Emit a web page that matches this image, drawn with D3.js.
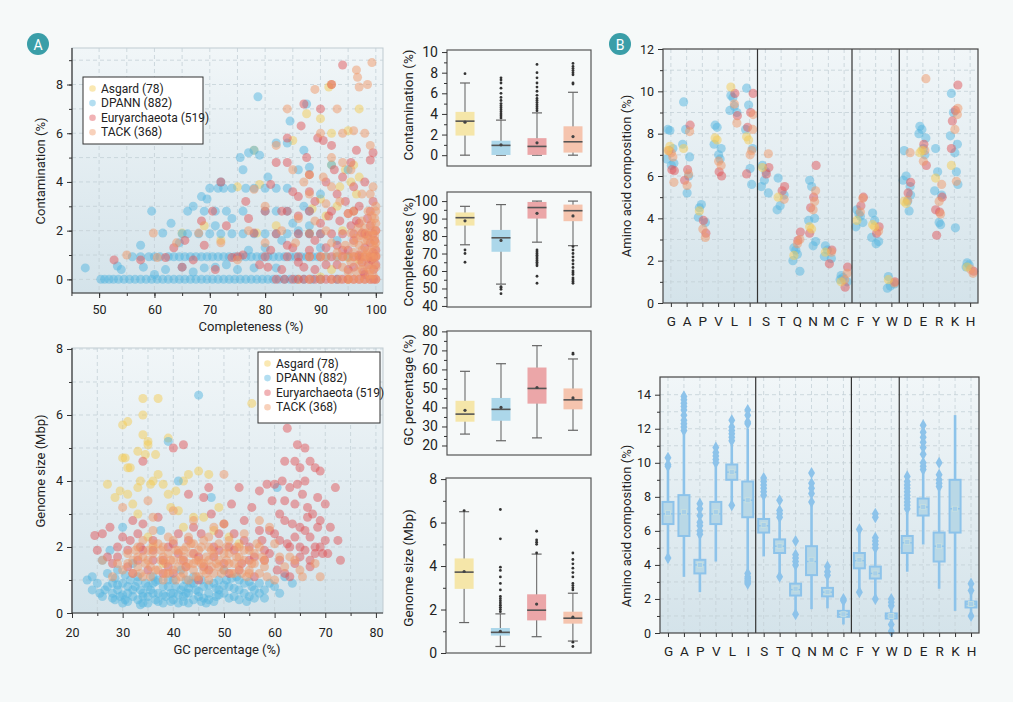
<!DOCTYPE html>
<html>
<head>
<meta charset="utf-8">
<script src="https://cdn.jsdelivr.net/npm/d3@7"></script>
<style>
  body { margin: 0; background: #f6f9f9; font-family: Roboto, "Noto Sans", sans-serif; }
  svg { display: block; }
</style>
</head>
<body>
<svg id="fig" width="1013" height="702"></svg>
<script>
// ---- data ----
const groups = ["Asgard (78)", "DPANN (882)", "Euryarchaeota (519)", "TACK (368)"];
const groupColors = ["#f4cb55", "#56b6df", "#df555a", "#f09868"];
const boxFills = ["#f5e6a9", "#acd7ea", "#eba6a8", "#f5c4ae"];

// completeness (%) vs contamination (%)
const ccAsgard = [[92,8.0],[91.5,7.9],[97,7.0],[87.5,6.8],[90,6.6],[92,6.0],[95,6.1],[85,5.7],[88,4.3],[92,4.7],[93.5,3.8],[94.5,4.5],[95.5,4.0],[96,4.7],[96.5,3.5],[97,4.2],[93,3.0],[90,3.3],[88,1.9],[75,3.8],[78,5.3],[79,3.9],[78.5,1.9],[72,1.6],[69,2.2],[91,2.6],[94,2.0],[96,2.8],[82,2.2],[97,0.8],[99,0.9],[95,0.9],[92,0.4],[90,0.1],[86,0],[95,0],[65,1.9],[88.5,2.9]];
const ccDpann = [[50.3,0],[51,0],[51.8,0],[52.6,0],[53.5,0],[54.5,0],[55.5,0],[56.5,0],[57.5,0],[58.5,0],[59.5,0],[60.5,0],[61.5,0],[62.5,0],[63.5,0],[64.5,0],[65.5,0],[66.5,0],[67.5,0],[68.5,0],[69.5,0],[70.5,0],[71.5,0],[72.5,0],[73.5,0],[74.5,0],[75.5,0],[76.5,0],[77.5,0],[78.5,0],[79.5,0],[80.5,0],[81.5,0],[82.5,0],[83.5,0],[84.5,0],[85.5,0],[87,0],[88.5,0],[90,0],[93,0],
  [56,0.93],[57.5,0.93],[59,0.93],[60,0.93],[61,0.93],[62.5,0.93],[63.5,0.93],[64.5,0.93],[65.5,0.93],[66.5,0.93],[67.5,0.93],[68.5,0.93],[69.5,0.93],[70.5,0.93],[71.5,0.93],[72.5,0.93],[73.5,0.93],[74.5,0.93],[75.5,0.93],[76.5,0.93],[77.5,0.93],[78.5,0.93],[79.5,0.93],[80.5,0.93],[81.5,0.93],[82.5,0.93],[83.5,0.93],[84.5,0.93],[85.5,0.93],[86.5,0.93],[87.5,0.93],[88.5,0.93],[89.5,0.93],[91,0.93],[93,0.93],[95,0.93],
  [47.5,0.47],[53.3,0.55],[54,0.4],[58,0.5],[62,0.4],[65,0.5],[67,0.3],[69,0.47],[71,0.5],[73,0.6],[75,0.4],[78,0.47],[82,0.47],
  [65,1.87],[66,1.87],[68,1.87],[70,1.87],[72,1.87],[74,1.87],[76,1.87],[78,1.87],[80,1.87],[82,1.87],[84,1.87],[86,1.87],[88,1.87],[90,1.87],
  [59.5,2.8],[66,2.8],[69,2.8],[71,2.8],[73,2.8],[76,2.8],[80,2.8],[82,2.8],[84,2.8],[88,2.8],
  [70,3.74],[71.5,3.74],[72.5,3.74],[74,3.74],[76.5,3.74],[78,3.74],[80,3.74],[82,3.74],[84,3.74],
  [57.5,1.4],[63,2.3],[64.5,1.5],[67,3.0],[68.5,3.4],[69.5,3.3],[72,4.0],[75.5,5.0],[76,4.5],[77,5.2],[78,5.3],[79,5.1],[78.7,7.5],[80.5,4.2],[82,5.6],[84,5.6],[84.5,6.5],[87.5,7.2],[87,5.3],[86,4.5],[88,4.6],[90,3.5],[92,4.7],[95,4.5],[77,1.2],[80,1.3],[83,1.6],[85,2.3],[86,2.0],[87,3.0],[88,2.2],[90,1.3],[93,1.6],[74,2.5],[71,2.2],[61.5,1.9],[60,0.2]];
const ccEury = [[82,0],[83.5,0],[85,0],[86,0],[87,0],[88,0],[89,0],[90,0],[91,0],[92,0],[93,0],[94,0],[95,0],[96,0],[97,0],[98,0],[99,0],[99.6,0],[100,0],
  [75,0.93],[80,0.93],[84,0.93],[86,0.93],[88,0.93],[90,0.93],[92,0.93],[94,0.93],[96,0.93],[97,0.93],[98,0.93],[99,0.93],[99.6,0.93],[100,0.93],
  [82,1.87],[86,1.87],[88,1.87],[90,1.87],[92,1.87],[94,1.87],[96,1.87],[98,1.87],[99.5,1.87],
  [84,2.8],[88,2.8],[92,2.8],[96,2.8],[99,2.8],
  [52.7,0.8],[57.5,0.8],[62,0.9],[63.5,1.3],[65,0.5],[65.5,1.6],[67,0.8],[68.5,2.4],[69,1.4],[70.5,2.8],[72,4.0],[73,2.2],[74,0.9],[76.5,3.2],[77,2.5],[78,1.9],[80,2.8],[80.5,0.5],[81,3.9],[82,4.8],[83,2.8],[84,4.8],[84,5.8],[85,3.6],[86,3.4],[86.5,6.3],[87,7.2],[87.5,5.0],[88,4.3],[89,3.2],[89.5,5.8],[90,7.0],[90.5,5.7],[91,4.0],[91.5,2.6],[92,8.0],[92,5.5],[93,3.5],[94,8.8],[94,4.2],[95,2.7],[95.5,4.8],[96,3.8],[96.5,5.3],[97,3.0],[97.5,1.9],[98,4.0],[98.5,2.5],[99,1.5],[99,4.9],[99.5,5.2],[99.5,3.2],[100,2.0],[100,1.2],[99.6,0.4],[98.7,0.6],[97.8,0.3],[99.2,0.8],[95,1.2],[93,1.4],[91,0.6],[89,1.6],[87,0.5],[85,1.3],[96,0.5],[98,1.3],[99.8,1.6],[97,2.3],[94.5,3.2],[92.5,4.5],[90,2.3],[88,3.6],[86,2.6],[83,0.4],[81,1.2],[79,0.6],[76,1.0],[71,0.4],
  [93,0.6],[94,1.2],[95,0.4],[96,1.6],[97,1.0],[98,0.2],[98.5,1.8],[99,2.2],[99.5,1.1],[100,0.6],[97.5,0.7],[96.5,2.4],[95.5,2.2],[93.5,2.4],[91,1.3],[89,0.4],[88,1.2],[86,0.7],[84,1.4]];
const ccTack = [[88,0],[90,0],[92,0],[93.5,0],[95,0],[96,0],[97,0],[98,0],[99,0],[100,0],
  [88,0.93],[90,0.93],[91,0.93],[93,0.93],[94,0.93],[95,0.93],[96,0.93],[97,0.93],[98,0.93],[99,0.93],[100,0.93],
  [99,0.4],[99.5,1.4],[98.5,1.6],[97.5,1.2],[99.8,1.8],[98,2.1],[97,0.6],[96,1.5],[99.3,2.6],[100,1.0],[98.8,0.2],[99.7,0.6],[99.9,1.3],[98.2,1.0],[97.2,1.8],[96.5,0.3],[99.4,2.0],[100,2.3],[98.6,2.8],[95.5,1.9],[94.5,1.4],[99,3.5],[100,3.0],
  [95,0.3],[95.5,0.7],[96,1.1],[96.5,1.7],[97,1.4],[97.5,0.4],[97.5,2.4],[98,0.8],[98,1.6],[98.5,0.5],[98.5,1.2],[99,1.1],[99,1.8],[99.2,2.3],[99.5,0.2],[99.5,0.9],[99.7,1.6],[100,0.5],[100,1.5],[100,2.0],[99.8,2.5],[98.3,1.9],[96.8,2.1],[94,0.5],[93,1.1],[92,1.5],
  [55,1.0],[59.8,1.9],[60.5,0.9],[64,1.5],[68,1.9],[72,1.5],[75,0.8],[77,2.0],[78,3.7],[80,3.0],[82,5.5],[84,7.0],[85,4.5],[86,2.5],[88,3.5],[89,7.8],[90,6.0],[90.5,4.2],[91,2.0],[92,5.0],[93,7.0],[93.5,3.2],[94,6.0],[95,2.7],[95.5,4.5],[96,6.1],[96.5,8.6],[97,7.9],[97.5,3.5],[98,6.0],[98.5,8.0],[99,5.5],[99.3,8.9],[99.5,3.8],[100,2.8],[96.7,8.3],[92,3.8],[94,4.8],[89,2.4],[87,4.0],[91,3.1],[85.5,1.5],[83,2.0],[80,1.5]];

// GC percentage (%) vs genome size (Mbp)
const gsAsgard = [[27,3.9],[28.5,3.5],[29.5,3.7],[30,4.7],[30,5.7],[30.5,4.7],[31,5.8],[31,4.4],[31,3.6],[31.5,4.4],[32,3.3],[33,4.9],[33,3.8],[33.5,4.0],[34,6.5],[34,6.0],[34,5.4],[34.5,4.8],[35,5.2],[35,5.1],[35.5,3.9],[36,4.0],[36.5,4.8],[37,6.5],[37,4.2],[38,3.9],[39,5.3],[39,3.6],[39.5,3.2],[40.5,3.7],[41,3.1],[42,4.0],[43,4.2],[44,2.9],[45,4.3],[46,2.9],[47,4.2],[48,2.5],[49,3.2],[50,2.7],[51,2.3],[55.5,6.35],[53,2.1],[36,2.0],[38,1.5],[35,2.3],[33,3.0],[42,2.6]];
const gsDpann = [[23,1.0],[24,1.1],[25,0.9],[25.5,0.6],[26,0.5],[27,0.8],[27.5,1.9],[28,0.6],[28.5,0.4],[29,0.7],[29.5,0.5],[30,0.9],[30,2.6],[30.5,0.4],[31,0.6],[31.5,1.0],[32,0.5],[32.5,0.8],[33,0.4],[33.5,0.7],[34,0.3],[34.5,0.9],[35,0.5],[35.5,0.7],[36,1.1],[36.5,0.4],[37,0.6],[37.5,2.5],[38,0.8],[38.5,0.5],[39,5.2],[39,1.0],[39.5,0.6],[40,0.4],[40.5,0.8],[41,4.0],[41,0.3],[41.5,0.7],[42,0.5],[42.5,1.0],[43,0.6],[43.5,0.9],[44,0.4],[44.5,0.7],[45,6.6],[45,0.5],[45.5,1.0],[46,0.8],[46.5,0.3],[47,0.6],[47.5,3.5],[48,0.9],[48.5,0.5],[49,0.7],[50,0.6],[50.5,1.0],[51,0.8],[52,0.5],[52.5,1.1],[53,0.7],[54,0.9],[55,0.5],[55.5,0.8],[56,0.7],[57,0.6],[58,0.7],[60,0.8],[60.5,3.8],[63.5,0.9],[36,0.9],[33,1.1],[30,0.3],[35,0.3],[40,0.6],[44,1.1],[38,0.3],[31,0.8],[28,0.9],[42,0.8],[47,0.4],[49,1.0],[34,0.6],[43,0.3],[37,1.0],[26,1.6],[29,1.3],[32,1.5],[27,1.2],[50,1.3],[53,0.4],[41.5,1.3],
  [28,0.45],[29,0.85],[30,0.55],[31,0.35],[32,0.7],[33,0.95],[34,0.5],[35,0.8],[36,0.6],[37,0.35],[38,0.55],[39,0.8],[40,1.0],[41,0.55],[42,0.35],[43,0.75],[44,0.9],[45,0.65],[46,0.45],[47,0.85],[48,0.35],[49,0.55],[50,0.85],[51,0.45],[52,0.75],[53,1.0],[54,0.6],[55,0.95],[56,0.45],[57,0.9],[58,0.45],[59,0.9],[61,0.6],[62,1.1],[28.5,1.05],[30.5,1.15],[33.5,0.25],[36.5,0.95],[39.5,0.35],[42.5,0.6],[45.5,0.35],[48.5,0.75],[51.5,1.05],[54.5,0.35],[26.5,0.7],[24,0.7]];
const gsEury = [[24.5,2.35],[25,1.9],[26,2.4],[27,1.7],[27.5,2.6],[28,1.5],[29,1.7],[30,2.3],[31,1.4],[31.5,2.2],[32,2.8],[33,2.4],[33.5,2.0],[34,4.6],[34,2.7],[35,1.3],[36,2.2],[37,2.9],[38,1.6],[39,2.0],[40,5.0],[40,1.2],[41,2.4],[42,5.1],[42.5,1.4],[43,3.6],[44,2.6],[45,1.0],[45.5,2.4],[46,3.5],[47,3.8],[47.5,3.0],[48,1.7],[49,2.4],[50,2.7],[51,1.2],[51.5,3.3],[52,2.4],[53,3.8],[53.5,1.5],[54,2.8],[55,2.0],[55.5,3.2],[56,1.1],[57,3.7],[57.5,2.2],[58,1.6],[58.5,3.9],[59,2.5],[59.5,3.4],[60,3.9],[60.5,1.3],[61,3.0],[61.5,4.0],[62,4.6],[62.5,5.6],[62.5,2.1],[63,3.8],[63.5,2.7],[64,4.6],[64,3.3],[64.5,5.1],[65,4.4],[65,2.6],[65.5,3.6],[66,4.0],[66,5.0],[66.5,3.2],[67,2.3],[67,4.6],[67.5,3.0],[68,4.4],[68,2.0],[68.5,3.5],[69,2.8],[69,4.3],[69.5,1.8],[70,3.3],[70.5,1.8],[71,2.6],[72,3.8],[72.5,2.2],[73,1.6],[64,1.5],[66,1.9],[62,2.8],[60,2.4],[58,1.9],[55,1.6],[52,1.9],[50,1.5],[48,2.0],[46,1.4],[44,1.8],[42,1.6],[40,2.1],[38,1.2],[36,1.6],[34,1.9],[32,1.2],[63,1.1],[67,1.6],[69,2.0],[65,2.0],[61,2.2],[68.5,2.6],[66.5,2.9],[64.5,3.9],[62,3.4],
  [33,1.6],[36,1.9],[39,1.4],[41,1.8],[43,2.2],[45,1.7],[47,1.3],[49,1.9],[51,2.0],[53,1.3],[54,2.2],[56,1.7],[57,2.5],[59,1.8],[61,1.6],[62,1.2],[63,2.0],[64,2.3],[65,1.7],[66,2.5],[67,1.4],[68,1.8],[70,2.2],[31,1.9],[29,2.0]];
const gsTack = [[26,1.6],[28,1.1],[29,1.5],[30,3.2],[30,1.3],[31,1.8],[32,1.2],[32,1.6],[33,2.0],[33,1.4],[34,1.7],[34,1.1],[35,1.9],[35,3.4],[35.5,1.4],[36,2.9],[36,1.8],[37,1.3],[37,2.1],[37.5,1.6],[38,1.0],[38,2.0],[38.5,1.5],[39,1.8],[39,1.2],[40,2.2],[40,1.6],[40.5,1.0],[41,1.9],[41,1.4],[42,1.7],[42,1.2],[42.5,2.0],[43,1.5],[43,1.0],[43.5,1.8],[44,1.3],[44,2.1],[44.5,1.6],[45,1.9],[45,1.1],[45.5,1.5],[46,2.2],[46,1.3],[46.5,1.7],[47,1.0],[47,2.0],[47.5,1.4],[48,1.8],[48,1.2],[49,1.6],[49,2.1],[50,1.3],[50,1.8],[51,1.5],[51,2.2],[52,1.2],[52.5,1.7],[53,2.0],[53,1.4],[54,1.6],[54.5,1.1],[55,1.9],[55,1.3],[56,1.5],[56.5,2.1],[57,1.2],[57.5,1.7],[58,1.4],[59,2.6],[60,1.0],[61,1.7],[62,1.4],[63,1.7],[64,1.6],[65,1.3],[65.5,1.1],[68,1.5],[69,1.1],[50,4.2],[48,2.6],[44,2.8],[40,3.1],[36,2.5],[34,2.2],[54,2.4],[57,2.8],[60,2.1],
  [31,1.5],[32.5,1.9],[33.5,1.2],[34.5,1.5],[35.5,1.1],[36,2.1],[36.5,1.3],[37.5,1.9],[38.5,1.2],[39.5,1.6],[40.5,1.9],[41.5,1.1],[41.5,1.6],[42.5,1.4],[43.5,2.1],[44.5,1.1],[45,1.6],[45.5,2.0],[46.5,1.2],[47,1.6],[47.5,1.9],[48.5,1.5],[49.5,1.2],[50.5,1.6],[50.5,2.0],[51.5,1.2],[52,1.5],[52.5,2.0],[53.5,1.2],[54,1.9],[55.5,1.5],[56,1.8],[57,2.0],[58,1.6],[58.5,1.1],[39,2.3],[43,2.3],[47,2.3],[35,1.6],[33,1.7],[42,1.9],[46,1.5],[49,1.4],[53,1.7],[44,1.5],[38,1.7],[40,1.3],[51,1.8],[55,1.2]];

// box statistics per group: [whiskerLow, q1, median, q3, whiskerHigh, mean, outliers]
const contamBoxes = [
  [0, 1.9, 3.3, 4.2, 7.0, 3.2, [7.9]],
  [0, 0.02, 0.95, 1.4, 3.4, 1.0, [3.6,3.8,4.0,4.2,4.4,4.6,4.8,5.0,5.3,5.6,6.0,6.5,7.0,7.3,7.5]],
  [0, 0.03, 0.85, 1.65, 4.1, 1.2, [4.3,4.5,4.7,4.9,5.1,5.3,5.5,5.8,6.2,6.6,7.0,7.5,8.0,8.8]],
  [0, 0.25, 1.3, 2.8, 6.1, 1.8, [6.9,7.0,7.8,8.0,8.2,8.4,8.6,8.9]]
];
const complBoxes = [
  [75, 86, 90.5, 93.5, 97, 88.7, [72, 70, 65]],
  [52.5, 71, 79, 83.5, 98, 77.5, [51, 50.5, 49.5, 47]],
  [76.5, 90, 96.3, 99.5, 100, 93, [72,71,70,69,68,67,66,65,64,63,57,53]],
  [74.5, 88.5, 94.5, 98, 100, 91.5, [74,72,70,68,66,64,62,60,59,58,56,55,54,53]]
];
const gcBoxes = [
  [26, 32.5, 36.5, 43.5, 59, 38.5, []],
  [22.5, 33, 39, 45, 63, 40, []],
  [24, 42, 50, 61, 72.5, 50.5, []],
  [28, 39, 44, 50, 65.5, 45, [68, 68.6]]
];
const sizeBoxes = [
  [1.4, 2.95, 3.72, 4.35, 6.5, 3.75, [6.55]],
  [0.3, 0.8, 0.95, 1.15, 1.8, 1.0, [1.9,2.0,2.1,2.2,2.3,2.4,2.5,2.6,2.9,3.2,3.5,3.8,3.95,5.25,6.6]],
  [0.75, 1.5, 1.97, 2.7, 4.55, 2.25, [4.6,5.0,5.1,5.2,5.6]],
  [0.55, 1.35, 1.6, 1.9, 2.75, 1.65, [0.5,0.3,2.9,3.0,3.1,3.2,3.5,3.7,3.9,4.1,4.3,4.6]]
];

// amino acid composition (%)
const aminoAcids = ["G","A","P","V","L","I","S","T","Q","N","M","C","F","Y","W","D","E","R","K","H"];
const aaSeparators = ["I","C","W"];
const aaDpann = [[8.2,8.15,6.8,6.6,6.5,7.3],[9.5,8.2,7.5,6.9,5.2,6.0],[4.5,4.65,4.05,3.8],[8.4,8.3,7.5,7.3,7.0,6.8],[9.8,9.7,9.1,9.0,9.3],[10.15,9.35,8.2,7.3,6.35,5.6],[6.5,5.8,5.5,5.2,6.2],[5.9,4.6,4.4,5.1],[2.6,2.5,2.0,1.5,2.3],[5.8,5.5,3.9,2.9,2.7,4.0],[2.7,2.5,2.2,2.1],[1.3,1.2,1.1,1.0],[4.4,4.2,3.6,3.8,4.1],[4.25,3.9,3.1,2.9,2.8],[1.25,0.8,0.7,0.9],[7.2,6.0,5.8,5.5,4.8,4.35,5.1],[8.35,8.2,8.0,7.8,7.3,7.0],[7.3,6.2,5.3,5.1,3.8,3.7],[9.9,9.0,7.9,7.5,7.1,6.2,5.6,3.55],[1.9,1.8,1.7]];
const aaEury = [[6.25,6.3,7.2],[8.4,6.3,5.8],[3.3,3.9],[6.0,6.2],[8.85,9.9],[9.9,9.0,8.3,6.1],[6.4,6.1],[5.5,5.3],[3.35,2.95],[6.5,5.0,4.5,3.3],[2.5,1.85],[1.7,0.75],[5.0,4.6],[3.6,3.3],[1.0],[5.7,5.2],[6.5,7.5],[5.0,4.3,3.2,4.4],[10.3,9.1,8.6,7.3],[1.5]];
const aaTack = [[5.7,7.1,6.9],[8.1,5.55,6.1],[3.1,3.5],[6.5,6.7],[8.5,9.4],[8.2,7.0,7.2,8.9],[7.05],[4.9],[3.0,2.8],[5.3,4.4,4.8],[2.4],[1.4,1.1],[4.95,4.3],[3.4],[0.95],[7.1,4.85],[10.6,6.7,7.2],[5.6,4.8,4.2],[8.9,8.2,5.75,9.2],[1.4,1.6]];
const aaAsgard = [[7.2,7.4],[7.3],[4.35],[7.8,7.7],[10.2],[7.85,7.7],[6.4],[5.0],[2.25],[3.6,3.5],[2.4],[1.0],[3.9],[3.7,3.6],[1.1],[4.8,4.7],[7.1,7.2],[5.9],[6.5],[1.7]];

const aaBoxes = [
  [4.5, 6.4, 7.0, 7.7, 9.7, 7.05, [4.4, 9.8, 9.9, 10.3]],
  [3.3, 5.7, 7.0, 8.1, 11.8, 7.1, [11.9,12.1,12.3,12.5,12.8,13.1,13.3,13.5,13.7,13.9]],
  [2.4, 3.5, 4.0, 4.3, 5.7, 4.0, [5.8,6.0,6.3,6.5,6.9,7.3,7.6]],
  [4.2, 6.4, 7.0, 7.7, 9.9, 7.1, [10.0,10.2,10.4,10.6,10.9]],
  [7.5, 9.0, 9.45, 9.9, 11.2, 9.45, [7.5,11.3,11.5,11.7,11.9,12.1,12.5]],
  [3.5, 6.8, 7.8, 8.9, 12.0, 7.8, [2.9,3.0,3.1,3.2,3.3,3.5,12.3,12.4,12.8,13.1]],
  [4.5, 5.9, 6.3, 6.7, 7.9, 6.35, [8.1,8.3,8.5,8.7,8.9,9.1]],
  [3.4, 4.7, 5.1, 5.5, 6.7, 5.1, [3.3,6.8,7.0,7.2,7.8]],
  [1.2, 2.2, 2.55, 2.9, 3.9, 2.6, [1.1,4.0,4.2,4.4,4.6,5.4]],
  [1.4, 3.4, 4.2, 5.1, 7.6, 4.3, [7.7,8.2,8.5,8.8,9.4]],
  [1.45, 2.15, 2.4, 2.65, 3.3, 2.4, [3.4,3.6,3.9]],
  [0.5, 0.95, 1.1, 1.3, 1.8, 1.1, [1.9,2.0]],
  [2.5, 3.8, 4.25, 4.7, 6.0, 4.3, [2.4,6.1]],
  [2.1, 3.2, 3.5, 3.9, 4.9, 3.5, [2.0,5.0,5.2,5.4,5.6,6.8,7.0]],
  [0.6, 0.85, 1.0, 1.15, 1.5, 1.0, [0.1,0.5,1.6,1.8,2.0]],
  [3.6, 4.7, 5.3, 5.7, 7.2, 5.35, [7.3,7.5,7.7,7.9,8.1,8.3,8.5,8.7,8.9,9.2]],
  [5.2, 6.9, 7.4, 7.9, 9.5, 7.4, [9.6,9.8,10.0,10.5,10.9,11.2,11.5,11.8,12.2]],
  [2.6, 4.2, 5.1, 5.9, 8.5, 5.1, [8.6,8.8,9.0,9.3,10.0]],
  [1.3, 5.9, 7.3, 9.0, 12.8, 7.3, []],
  [1.0, 1.5, 1.7, 1.85, 2.4, 1.7, [1.0,2.5,2.9]]
];

// ---- drawing ----
const svg = d3.select("#fig");
const FONT = "Roboto, 'Noto Sans', sans-serif";

const defs = svg.append("defs");
const grad = defs.append("linearGradient").attr("id", "bgGrad")
  .attr("x1", 0).attr("y1", 0).attr("x2", 0).attr("y2", 1);
grad.append("stop").attr("offset", "0%").attr("stop-color", "#f1f6f8");
grad.append("stop").attr("offset", "100%").attr("stop-color", "#d4e3ea");

function styleAxis(a, fs) {
  a.select(".domain").remove();
  a.selectAll(".tick line").attr("stroke", "#333");
  a.selectAll(".tick text").attr("font-size", fs).attr("font-family", FONT).attr("fill", "#222");
}

function leftAxis(g, y, x0, major, minor, fs) {
  g.append("g").attr("transform", `translate(${x0},0)`)
    .call(d3.axisLeft(y).tickValues(minor).tickSize(3).tickFormat(""))
    .call(a => styleAxis(a, fs));
  g.append("g").attr("transform", `translate(${x0},0)`)
    .call(d3.axisLeft(y).tickValues(major).tickSize(5).tickPadding(4).tickFormat(d3.format("d")))
    .call(a => styleAxis(a, fs));
}

function bottomAxis(g, x, y0, major, minor, fs, pad) {
  if (minor) {
    g.append("g").attr("transform", `translate(0,${y0})`)
      .call(d3.axisBottom(x).tickValues(minor).tickSize(3).tickFormat(""))
      .call(a => styleAxis(a, fs));
  }
  g.append("g").attr("transform", `translate(0,${y0})`)
    .call(d3.axisBottom(x).tickValues(major).tickSize(5).tickPadding(pad))
    .call(a => styleAxis(a, fs));
}

function label(text, x, y, rotate, fs) {
  svg.append("text").attr("x", x).attr("y", y)
    .attr("transform", rotate ? `rotate(-90,${x},${y})` : null)
    .attr("text-anchor", "middle").attr("dominant-baseline", "central")
    .attr("font-family", FONT).attr("font-size", fs || 13).attr("fill", "#222")
    .text(text);
}

function badge(letter, cx, cy) {
  svg.append("circle").attr("cx", cx).attr("cy", cy).attr("r", 11).attr("fill", "#3a9ea8");
  svg.append("text").attr("x", cx).attr("y", cy + 0.5).attr("text-anchor", "middle")
    .attr("dominant-baseline", "central").attr("font-family", FONT)
    .attr("font-size", 14).attr("fill", "#fff").text(letter);
}

function gridLines(g, x, y, xs, ys, box) {
  g.append("g").selectAll("line").data(xs).join("line")
    .attr("x1", d => x(d)).attr("x2", d => x(d)).attr("y1", box.top).attr("y2", box.bottom)
    .attr("stroke", "#c4d1d7").attr("stroke-dasharray", "4,3").attr("stroke-width", 0.8);
  g.append("g").selectAll("line").data(ys).join("line")
    .attr("x1", box.left).attr("x2", box.right).attr("y1", d => y(d)).attr("y2", d => y(d))
    .attr("stroke", "#c4d1d7").attr("stroke-dasharray", "4,3").attr("stroke-width", 0.8);
}

function scatterPanel(o) {
  const x = d3.scaleLinear().domain(o.xDom).range([o.left, o.right]);
  const y = d3.scaleLinear().domain(o.yDom).range([o.bottom, o.top]);
  const g = svg.append("g");
  g.append("rect").attr("x", o.left).attr("y", o.top)
    .attr("width", o.right - o.left).attr("height", o.bottom - o.top)
    .attr("fill", "url(#bgGrad)").attr("stroke", "#bfcbd1");
  gridLines(g, x, y, o.xGrid, o.yGrid, o);
  o.sets.forEach((pts, i) => {
    g.append("g").selectAll("circle").data(pts).join("circle")
      .attr("cx", d => x(d[0])).attr("cy", d => y(d[1])).attr("r", 4.5)
      .attr("fill", groupColors[i]).attr("fill-opacity", 0.5);
  });
  g.append("line").attr("x1", o.left).attr("x2", o.left).attr("y1", o.top).attr("y2", o.bottom).attr("stroke", "#333").attr("stroke-width", 1.2);
  g.append("line").attr("x1", o.left).attr("x2", o.right).attr("y1", o.bottom).attr("y2", o.bottom).attr("stroke", "#333").attr("stroke-width", 1.2);
  leftAxis(g, y, o.left, o.yMajor, o.yMinor, 12.5);
  bottomAxis(g, x, o.bottom, o.xMajor, o.xMinor, 12.5, o.xPad);

  const L = o.legend;
  const lg = g.append("g");
  lg.append("rect").attr("x", L.x).attr("y", L.y).attr("width", L.w).attr("height", L.h)
    .attr("fill", "#fff").attr("stroke", "#333").attr("stroke-width", 1);
  groups.forEach((name, i) => {
    const cy = L.y + 11.5 + i * 14.6;
    lg.append("circle").attr("cx", L.x + 9.5).attr("cy", cy).attr("r", 3.3)
      .attr("fill", groupColors[i]).attr("fill-opacity", 0.45);
    lg.append("text").attr("x", L.x + 18).attr("y", cy).attr("dominant-baseline", "central")
      .attr("font-family", FONT).attr("font-size", 12).attr("fill", "#222").text(name);
  });
}

function boxPanel(o) {
  const y = d3.scaleLinear().domain(o.yDom).range([o.bottom, o.top]);
  const xb = d3.scalePoint().domain(d3.range(groups.length)).range([o.left, o.right]).padding(0.5);
  const g = svg.append("g");
  o.stats.forEach((s, i) => {
    const cx = xb(i);
    const [lo, q1, med, q3, hi, mean, outs] = s;
    g.append("line").attr("x1", cx).attr("x2", cx).attr("y1", y(lo)).attr("y2", y(hi))
      .attr("stroke", "#777").attr("stroke-width", 1.2);
    [lo, hi].forEach(v => g.append("line").attr("x1", cx - 5).attr("x2", cx + 5)
      .attr("y1", y(v)).attr("y2", y(v)).attr("stroke", "#666").attr("stroke-width", 1.2));
    g.append("rect").attr("x", cx - 9.5).attr("y", y(q3)).attr("width", 19)
      .attr("height", Math.max(1, y(q1) - y(q3))).attr("fill", boxFills[i]);
    g.append("line").attr("x1", cx - 9.5).attr("x2", cx + 9.5).attr("y1", y(med)).attr("y2", y(med))
      .attr("stroke", "#555").attr("stroke-width", 1.6);
    g.append("circle").attr("cx", cx).attr("cy", y(mean)).attr("r", 1.6).attr("fill", "#444");
    g.append("g").selectAll("circle").data(outs).join("circle")
      .attr("cx", cx).attr("cy", d => y(d)).attr("r", 1.4).attr("fill", "#333");
  });
  g.append("rect").attr("x", o.left).attr("y", o.top).attr("width", o.right - o.left)
    .attr("height", o.bottom - o.top).attr("fill", "none").attr("stroke", "#555").attr("stroke-width", 1.2);
  leftAxis(g, y, o.left, o.yMajor, o.yMinor, 14);
  label(o.label, 408, o.labelY, true, 13.5);
}

function aaFrame(o) {
  const x = d3.scalePoint().domain(aminoAcids).range([o.left, o.right]).padding(0.5);
  const y = d3.scaleLinear().domain(o.yDom).range([o.bottom, o.top]);
  const g = svg.append("g");
  g.append("rect").attr("x", o.left).attr("y", o.top).attr("width", o.right - o.left)
    .attr("height", o.bottom - o.top).attr("fill", "url(#bgGrad)");
  gridLines(g, x, y, aminoAcids, o.yGrid, o);
  return { x, y, g };
}

function aaFinish(o, x, y, g) {
  const step = x.step();
  g.append("g").selectAll("line").data(aaSeparators).join("line")
    .attr("x1", d => x(d) + step / 2).attr("x2", d => x(d) + step / 2)
    .attr("y1", o.top).attr("y2", o.bottom).attr("stroke", "#333").attr("stroke-width", 1.2);
  g.append("rect").attr("x", o.left).attr("y", o.top).attr("width", o.right - o.left)
    .attr("height", o.bottom - o.top).attr("fill", "none").attr("stroke", "#444").attr("stroke-width", 1.2);
  leftAxis(g, y, o.left, o.yMajor, o.yMinor, 12.5);
  g.append("g").attr("transform", `translate(0,${o.bottom})`)
    .call(d3.axisBottom(x).tickSize(4).tickPadding(9))
    .call(a => styleAxis(a, 13.5));
}

// ---- panel A: scatter plots ----
badge("A", 38, 44);
scatterPanel({
  left: 72, right: 383, top: 48, bottom: 293,
  xDom: [45.1, 101.3], yDom: [-0.56, 9.5],
  xGrid: d3.range(50, 101, 5), yGrid: d3.range(0, 10, 1),
  xMajor: d3.range(50, 101, 10), xMinor: d3.range(45, 101, 5),
  yMajor: [0, 2, 4, 6, 8], yMinor: d3.range(0, 10, 1), xPad: 7,
  sets: [ccAsgard, ccDpann, ccEury, ccTack],
  legend: { x: 83, y: 77, w: 120, h: 67 }
});
label("Completeness (%)", 251, 326);
label("Contamination (%)", 40, 171, true);

scatterPanel({
  left: 72, right: 383, top: 348, bottom: 613,
  xDom: [20, 81.4], yDom: [0, 8.03],
  xGrid: d3.range(25, 81, 5), yGrid: d3.range(1, 9, 1),
  xMajor: d3.range(20, 81, 10), xMinor: d3.range(25, 81, 10),
  yMajor: [0, 2, 4, 6, 8], yMinor: d3.range(1, 8, 2), xPad: 10,
  sets: [gsAsgard, gsDpann, gsEury, gsTack],
  legend: { x: 258, y: 352, w: 122, h: 71 }
});
label("GC percentage (%)", 227, 649);
label("Genome size (Mbp)", 40, 471, true);

// ---- panel A: box plots ----
boxPanel({ left: 447, right: 591, top: 50, bottom: 166, yDom: [-1.05, 10.2],
  yMajor: [0, 2, 4, 6, 8, 10], yMinor: d3.range(1, 10, 2), stats: contamBoxes,
  label: "Contamination (%)", labelY: 105 });
boxPanel({ left: 447, right: 591, top: 192, bottom: 307, yDom: [39.4, 105.2],
  yMajor: d3.range(40, 101, 10), yMinor: d3.range(45, 101, 10), stats: complBoxes,
  label: "Completeness (%)", labelY: 252 });
boxPanel({ left: 447, right: 591, top: 331, bottom: 455, yDom: [15, 80.2],
  yMajor: d3.range(20, 81, 10), yMinor: d3.range(25, 81, 10), stats: gcBoxes,
  label: "GC percentage (%)", labelY: 390 });
boxPanel({ left: 446, right: 591, top: 478, bottom: 653, yDom: [0, 8.05],
  yMajor: [0, 2, 4, 6, 8], yMinor: [1, 3, 5, 7], stats: sizeBoxes,
  label: "Genome size (Mbp)", labelY: 568 });

// ---- panel B: amino acid composition by group ----
badge("B", 620, 44);
const aaTop = { left: 663, right: 978, top: 49, bottom: 303, yDom: [0, 12],
  yGrid: d3.range(1, 12, 1), yMajor: d3.range(0, 13, 2), yMinor: d3.range(1, 12, 2) };
{
  const { x, y, g } = aaFrame(aaTop);
  const jitter = [-3, 2, -1, 3.5, -4, 1, 3, -2, 0.5];
  const sets = [aaDpann, aaEury, aaTack, aaAsgard];
  const colorIdx = [1, 2, 3, 0];
  sets.forEach((set, si) => {
    const pts = [];
    set.forEach((vals, ai) => vals.forEach((v, k) => pts.push({ aa: aminoAcids[ai], v, j: jitter[(k * 2 + si * 3) % jitter.length] })));
    g.append("g").selectAll("circle").data(pts).join("circle")
      .attr("cx", d => x(d.aa) + d.j).attr("cy", d => y(d.v)).attr("r", 4.6)
      .attr("fill", groupColors[colorIdx[si]]).attr("fill-opacity", 0.5);
  });
  aaFinish(aaTop, x, y, g);
}
label("Amino acid composition (%)", 626, 176, true);

// ---- panel B: amino acid composition box plots ----
const aaBot = { left: 660, right: 979, top: 377, bottom: 633, yDom: [0, 15.04],
  yGrid: d3.range(1, 15, 1), yMajor: d3.range(0, 15, 2), yMinor: d3.range(1, 15, 2) };
{
  const { x, y, g } = aaFrame(aaBot);
  const blue = "#8dc3ea";
  const diamond = d3.symbol().type(d3.symbolDiamond).size(42);
  aaBoxes.forEach((s, i) => {
    const cx = x(aminoAcids[i]);
    const [lo, q1, med, q3, hi, mean, outs] = s;
    g.append("line").attr("x1", cx).attr("x2", cx).attr("y1", y(lo)).attr("y2", y(hi))
      .attr("stroke", blue).attr("stroke-width", 2.6);
    g.append("g").selectAll("path").data(outs).join("path")
      .attr("d", diamond).attr("transform", d => `translate(${cx},${y(d)})`)
      .attr("fill", blue);
    g.append("rect").attr("x", cx - 5.5).attr("y", y(q3)).attr("width", 11)
      .attr("height", y(q1) - y(q3)).attr("fill", "#b9d8e6").attr("stroke", blue).attr("stroke-width", 2);
    g.append("line").attr("x1", cx - 5.5).attr("x2", cx + 5.5).attr("y1", y(med)).attr("y2", y(med))
      .attr("stroke", blue).attr("stroke-width", 1.4);
    g.append("rect").attr("x", cx - 2.5).attr("y", y(mean) - 2.5).attr("width", 5).attr("height", 5)
      .attr("fill", "#a6cfe8").attr("stroke", "#c8e0e0").attr("stroke-width", 0.8);
  });
  aaFinish(aaBot, x, y, g);
}
label("Amino acid composition (%)", 626, 526, true);
</script>
</body>
</html>
